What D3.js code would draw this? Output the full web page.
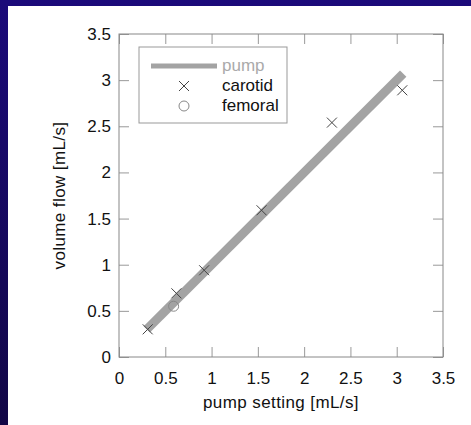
<!DOCTYPE html>
<html>
<head>
<meta charset="utf-8">
<script src="https://cdn.jsdelivr.net/npm/d3@7"></script>
<style>
  body { margin: 0; background: #fff; }
  svg text { font-family: "Liberation Sans", Arial, sans-serif; }
</style>
</head>
<body>
<div id="chart"></div>
<script>
// data
var tickValues = [0, 0.5, 1, 1.5, 2, 2.5, 3, 3.5];
var pumpX = [0.30, 3.07];
var pumpY = [0.30, 3.07];
var carotidX = [0.31, 0.62, 0.92, 1.54, 2.30, 3.06];
var carotidY = [0.30, 0.69, 0.94, 1.59, 2.54, 2.89];
var femoralX = [0.59];
var femoralY = [0.55];
var legendNames = ["pump", "carotid", "femoral"];

var W = 471, H = 425;
var margin = {left: 119, top: 34, right: 28, bottom: 68};
var width = W - margin.left - margin.right,
    height = H - margin.top - margin.bottom;
var fontSize = "17px";

var root = d3.select("#chart").append("svg")
    .attr("width", W)
    .attr("height", H);

// slide background
var grad = root.append("defs").append("linearGradient")
    .attr("id", "bg").attr("x1", 0).attr("y1", 0).attr("x2", 0).attr("y2", 1);
grad.append("stop").attr("offset", "0%").attr("stop-color", "#1b0a7a");
grad.append("stop").attr("offset", "100%").attr("stop-color", "#120746");
root.append("rect").attr("width", W).attr("height", H).attr("fill", "url(#bg)");
root.append("rect").attr("x", 8).attr("y", 6).attr("width", W - 8).attr("height", H - 6).attr("fill", "#fff");

var svg = root.append("g")
    .attr("transform", "translate(" + margin.left + "," + margin.top + ")");

var x = d3.scaleLinear().domain([0, 3.5]).range([0, width]);
var y = d3.scaleLinear().domain([0, 3.5]).range([height, 0]);
var fmt = d3.format("");

function styleAxis(g) {
  g.selectAll(".domain").remove();
  g.selectAll(".tick line").attr("stroke", "#999");
  g.selectAll(".tick text").attr("fill", "#111").style("font-size", fontSize);
}

svg.append("g")
    .attr("transform", "translate(0," + height + ")")
    .call(d3.axisBottom(x).tickValues(tickValues).tickFormat(fmt).tickSizeInner(-10).tickSizeOuter(0).tickPadding(15))
    .call(styleAxis);
svg.append("g")
    .call(d3.axisLeft(y).tickValues(tickValues).tickFormat(fmt).tickSizeInner(-10).tickSizeOuter(0).tickPadding(8))
    .call(styleAxis);
svg.append("g")
    .call(d3.axisTop(x).tickValues(tickValues).tickFormat("").tickSizeInner(-10).tickSizeOuter(0))
    .call(styleAxis);
svg.append("g")
    .attr("transform", "translate(" + width + ",0)")
    .call(d3.axisRight(y).tickValues(tickValues).tickFormat("").tickSizeInner(-10).tickSizeOuter(0))
    .call(styleAxis);

// frame
svg.append("rect")
    .attr("width", width).attr("height", height)
    .attr("fill", "none").attr("stroke", "#888").attr("stroke-width", 1);

// pump line
svg.append("line")
    .attr("x1", x(pumpX[0])).attr("y1", y(pumpY[0]))
    .attr("x2", x(pumpX[1])).attr("y2", y(pumpY[1]))
    .attr("stroke", "#a3a3a3").attr("stroke-width", 9);

function cross(sel, s) {
  sel.append("path")
      .attr("d", "M" + (-s) + "," + (-s) + "L" + s + "," + s + "M" + (-s) + "," + s + "L" + s + "," + (-s))
      .attr("stroke", "#444").attr("stroke-width", 1).attr("fill", "none");
}

svg.selectAll("g.carotid")
    .data(carotidX)
    .enter()
    .append("g")
    .attr("class", "carotid")
    .attr("transform", function (d, i) { return "translate(" + x(d) + "," + y(carotidY[i]) + ")"; })
    .call(cross, 5);

svg.selectAll("circle.femoral")
    .data(femoralX)
    .enter()
    .append("circle")
    .attr("class", "femoral")
    .attr("cx", function (d) { return x(d); })
    .attr("cy", function (d, i) { return y(femoralY[i]); })
    .attr("r", 5)
    .attr("fill", "none").attr("stroke", "#888");

// legend
var lg = root.append("g").attr("transform", "translate(139,47)");
lg.append("rect").attr("width", 148).attr("height", 76)
    .attr("fill", "#fff").attr("stroke", "#999");
lg.append("line").attr("x1", 12).attr("x2", 78).attr("y1", 19).attr("y2", 19)
    .attr("stroke", "#a3a3a3").attr("stroke-width", 5);
lg.append("g").attr("transform", "translate(45,39)").call(cross, 5);
lg.append("circle").attr("cx", 45).attr("cy", 59).attr("r", 5)
    .attr("fill", "none").attr("stroke", "#888");
lg.selectAll("text.name")
    .data(legendNames)
    .enter()
    .append("text")
    .attr("class", "name")
    .attr("x", 83)
    .attr("y", function (d, i) { return 24 + i * 20; })
    .attr("fill", function (d, i) { return i === 0 ? "#aaa" : "#111"; })
    .style("font-size", fontSize)
    .text(function (d) { return d; });

// axis titles
root.append("text")
    .attr("x", margin.left + width / 2).attr("y", 408)
    .attr("text-anchor", "middle")
    .style("font-size", fontSize).style("letter-spacing", "0.4px").attr("fill", "#111")
    .text("pump setting [mL/s]");
root.append("text")
    .attr("transform", "translate(65," + (margin.top + height / 2) + ") rotate(-90)")
    .attr("text-anchor", "middle")
    .style("font-size", fontSize).style("letter-spacing", "0.4px").attr("fill", "#111")
    .text("volume flow [mL/s]");
</script>
</body>
</html>
